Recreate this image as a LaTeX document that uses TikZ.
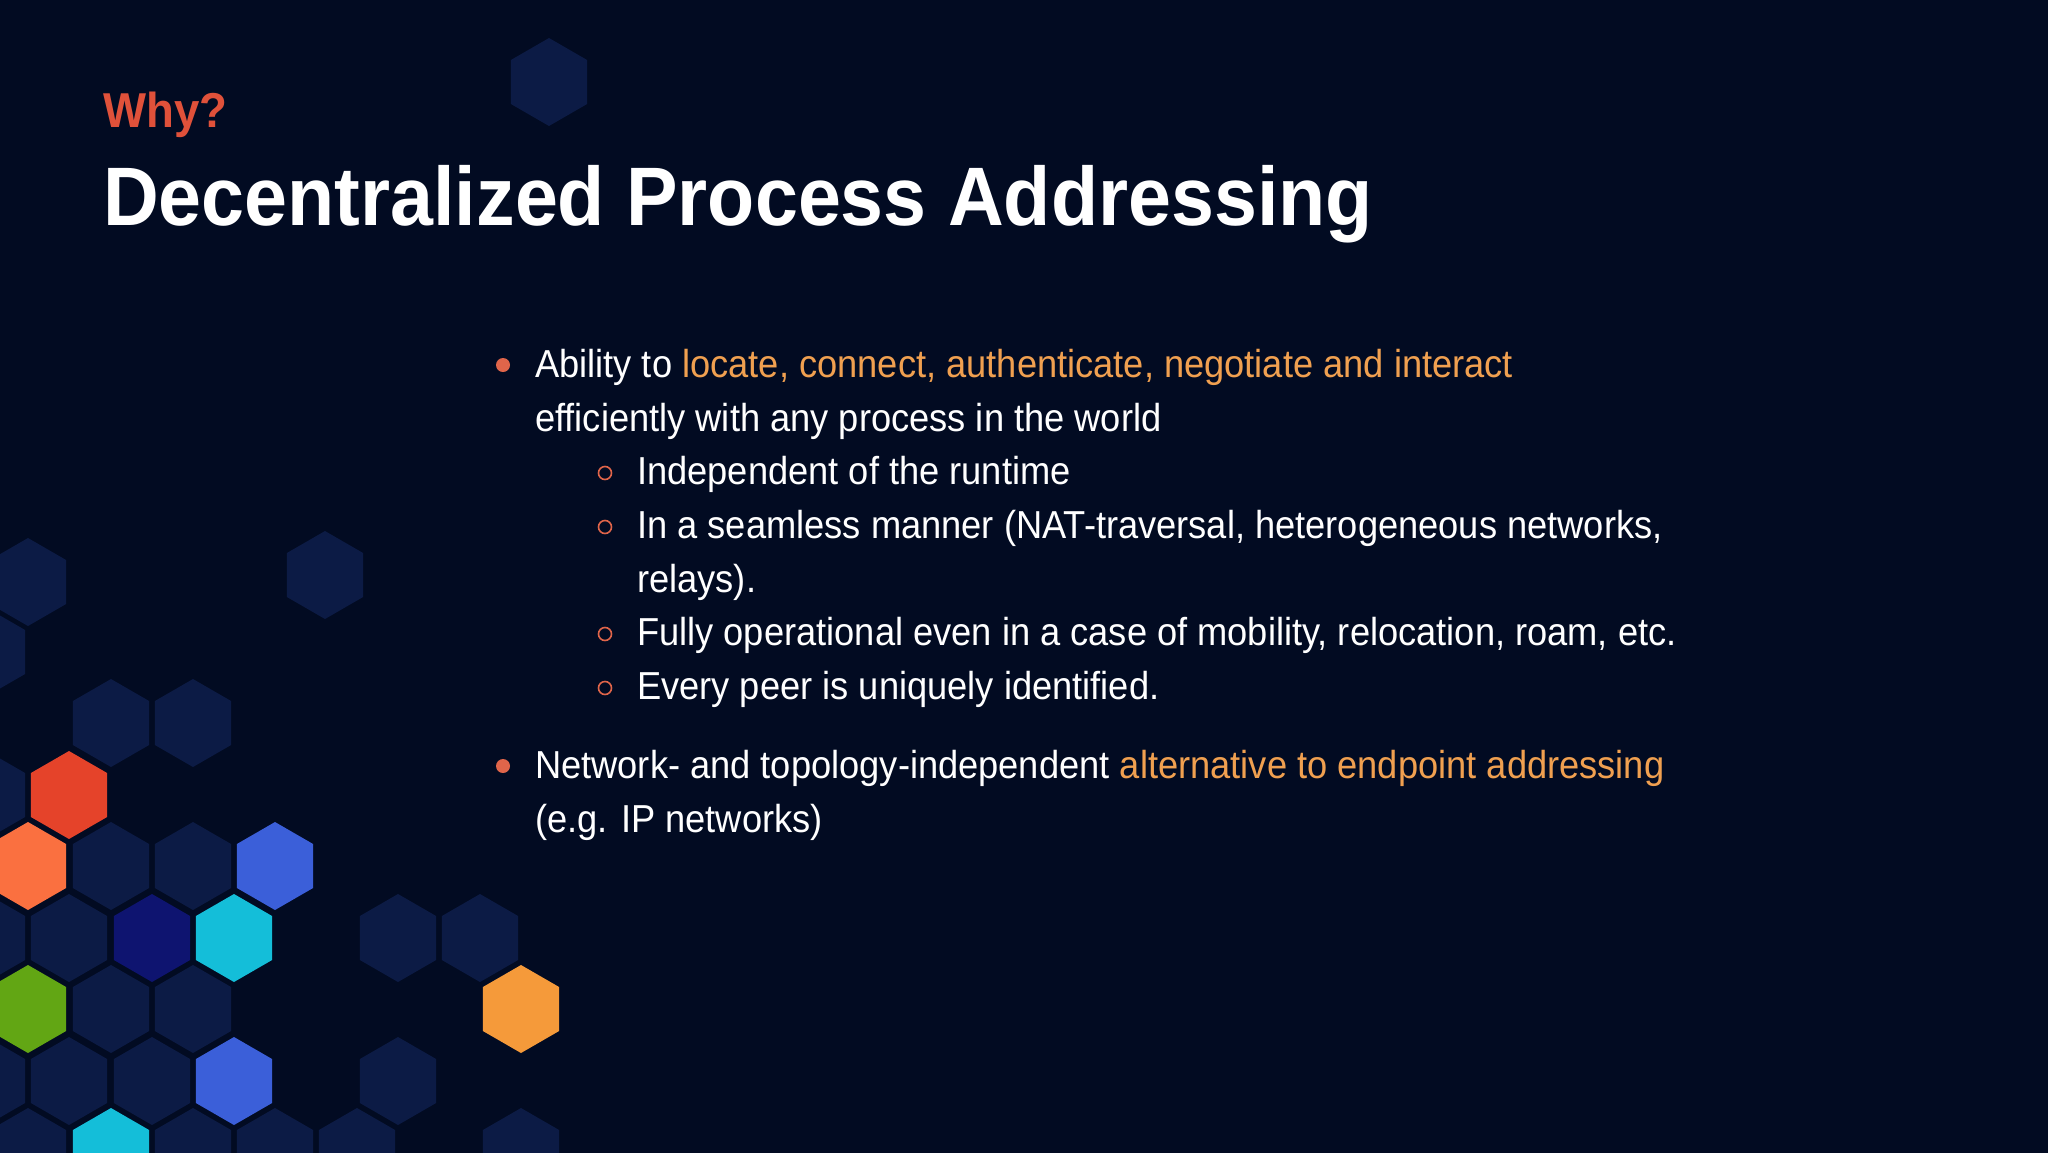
\documentclass[tikz,border=0pt]{standalone}
\usepackage{fontspec}
\setmainfont{Liberation Sans}[FakeStretch=0.93]
\definecolor{bg}{HTML}{020B22}
\definecolor{hdark}{HTML}{0C1B45}
\definecolor{hred}{HTML}{E5432A}
\definecolor{horange}{HTML}{FA7040}
\definecolor{hblue}{HTML}{3B5FD9}
\definecolor{hcyan}{HTML}{14BED9}
\definecolor{hnavy}{HTML}{0E1470}
\definecolor{hgreen}{HTML}{62A614}
\definecolor{hgold}{HTML}{F59A3A}
\definecolor{why}{HTML}{E0513A}
\definecolor{hl}{HTML}{F0A050}
\definecolor{bul}{HTML}{E0654A}
\begin{document}
\begin{tikzpicture}[x=1pt,y=-1pt,
  txt/.style={anchor=base west,inner sep=0pt,text=white,font=\fontsize{39}{47}\selectfont},
  hex/.pic={\fill[#1] (90:44) -- (150:44) -- (210:44) -- (270:44) -- (330:44) -- (30:44) -- cycle;}]
\useasboundingbox (0,0) rectangle (2048,1152);
\fill[bg] (-5,-5) rectangle (2053,1160);
% hexes
\foreach \x/\y/\c in {549/82/hdark,325/575/hdark,28/582/hdark,-13/652/hdark,
  111/723/hdark,193/723/hdark,-13/795/hdark,69/795/hred,
  28/866/horange,111/866/hdark,193/866/hdark,275/866/hblue,
  -13/938/hdark,69/938/hdark,152/938/hnavy,234/938/hcyan,398/938/hdark,480/938/hdark,
  28/1009/hgreen,111/1009/hdark,193/1009/hdark,521/1009/hgold,
  -13/1081/hdark,69/1081/hdark,152/1081/hdark,234/1081/hblue,398/1081/hdark,
  28/1152/hdark,111/1152/hcyan,193/1152/hdark,275/1152/hdark,357/1152/hdark,521/1152/hdark}
  {\pic at (\x,\y) {hex=\c};}
% titles
\node[txt,text=why,font=\bfseries\fontsize{49}{58}\selectfont] (why) at (103,127) {Why?};
\node[txt,font=\bfseries\fontsize{83}{96}\selectfont] (title) at (103,225) {Decentralized Process Addressing};
% bullets
\node[txt] (l1) at (535,377) {Ability to \textcolor{hl}{locate, connect, authenticate, negotiate and interact}};
\node[txt] (l2) at (535,431) {efficiently with any process in the world};
\node[txt] (l3) at (637,484) {Independent of the runtime};
\node[txt] (l4) at (637,538) {In a seamless manner (NAT-traversal, heterogeneous networks,};
\node[txt] (l5) at (637,592) {relays).};
\node[txt] (l6) at (637,645) {Fully operational even in a case of mobility, relocation, roam, etc.};
\node[txt] (l7) at (637,699) {Every peer is uniquely identified.};
\node[txt] (l8) at (535,778) {Network- and topology-independent \textcolor{hl}{alternative to endpoint addressing}};
\node[txt] (l9) at (535,832) {(e.g. IP networks)};
\foreach \y in {365,766} \fill[bul] (503,\y) circle (7);
\foreach \y in {473,527,634,688} \draw[bul,line width=1.6] (605,\y) circle (6.5);
\end{tikzpicture}
\end{document}
